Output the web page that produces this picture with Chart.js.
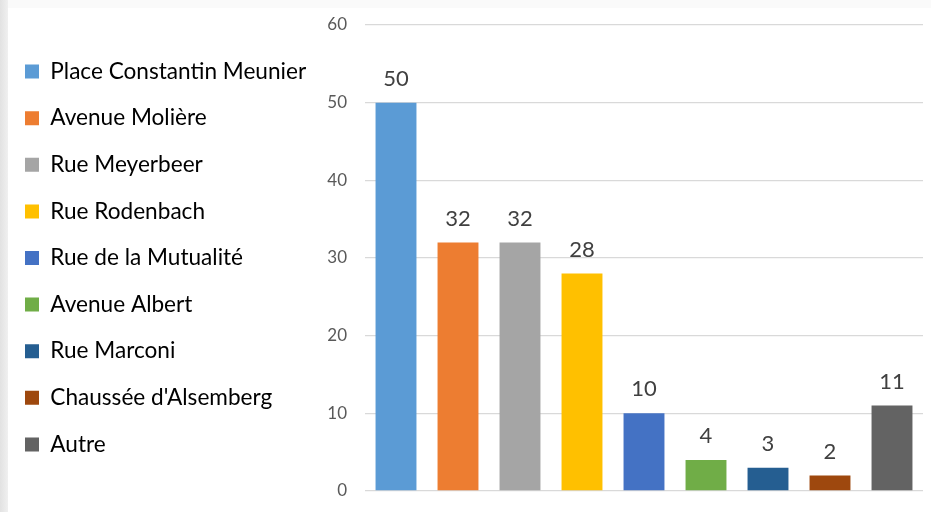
<!DOCTYPE html>
<html>
<head>
<meta charset="utf-8">
<script src="https://cdn.jsdelivr.net/npm/chart.js@4"></script>
<style>
  html, body { margin: 0; padding: 0; }
  body { width: 931px; height: 512px; background: #fafafa; position: relative; overflow: hidden; }
  #strip { position: absolute; left: 0; top: 0; width: 8px; height: 512px;
           background: linear-gradient(to right, #e2e2e2, #f0f0f0); }
  #panel { position: absolute; left: 8px; top: 8px; right: 0; bottom: 0; background: #fff; }
  #wrap { position: absolute; left: 1px; top: 0; width: 930px; height: 512px; }
</style>
</head>
<body>
<div id="strip"></div>
<div id="panel"></div>
<div id="wrap"><canvas id="myChart"></canvas></div>
<script>
let streets = ['Place Constantin Meunier', 'Avenue Molière', 'Rue Meyerbeer', 'Rue Rodenbach',
               'Rue de la Mutualité', 'Avenue Albert', 'Rue Marconi', "Chaussée d'Alsemberg", 'Autre'];
let counts = [50, 32, 32, 28, 10, 4, 3, 2, 11];
let colors = ['#5B9BD5', '#ED7D31', '#A5A5A5', '#FFC000', '#4472C4', '#70AD47', '#255E91', '#9E480E', '#636363'];
let yTicks = [0, 10, 20, 30, 40, 50, 60];

// draws the value above each bar
const barValues = {
  id: 'barValues',
  afterDatasetsDraw(chart) {
    const ctx = chart.ctx;
    const meta = chart.getDatasetMeta(0);
    ctx.save();
    ctx.font = '22px Lato';
    ctx.fillStyle = '#404040';
    ctx.textAlign = 'center';
    ctx.textBaseline = 'middle';
    meta.data.forEach((bar, i) => {
      ctx.fillText(counts[i], bar.x, bar.y - 24);
    });
    ctx.restore();
  }
};

// legend on the left is capped at a quarter of the width by default, let it be wider
const wideLegend = {
  id: 'wideLegend',
  beforeLayout(chart) {
    const lg = chart.legend;
    if (lg && !lg._wide) {
      const upd = lg.update.bind(lg);
      lg.update = (maxWidth, maxHeight, margins) => upd(Math.max(maxWidth, 320), maxHeight, margins);
      lg._wide = true;
    }
  }
};

function Place() {
  const ctx = document.getElementById('myChart');

  new Chart(ctx, {
    type: 'bar',
    data: {
      labels: streets,
      datasets: [{
        data: counts,
        backgroundColor: colors,
        barPercentage: 0.66,
        categoryPercentage: 1
      }]
    },
    options: {
      responsive: true,
      maintainAspectRatio: false,
      animation: false,
      layout: { padding: { top: 25, right: 8, bottom: 21, left: 0 } },
      plugins: {
        tooltip: { enabled: false },
        legend: {
          position: 'left',
          labels: {
            font: { family: 'Lato', size: 22.6 },
            color: '#595959',
            boxWidth: 14,
            boxHeight: 14,
            padding: 24,
            generateLabels: () => streets.map((s, i) => ({
              text: s,
              fillStyle: colors[i],
              strokeStyle: colors[i],
              lineWidth: 0,
              index: i
            }))
          }
        }
      },
      scales: {
        x: { display: false },
        y: {
          min: 0,
          max: 60,
          afterBuildTicks: axis => { axis.ticks = yTicks.map(v => ({ value: v })); },
          afterFit: axis => { axis.width = 364 - axis.chart.legend.width; },
          border: { display: false },
          grid: { color: '#d9d9d9', lineWidth: 1.3, drawTicks: true, tickLength: 15, tickColor: 'rgba(0,0,0,0)' },
          ticks: {
            padding: 3,
            color: '#595959',
            font: { family: 'Lato', size: 17 }
          }
        }
      }
    },
    plugins: [barValues, wideLegend]
  });
}

Place();
</script>
</body>
</html>
